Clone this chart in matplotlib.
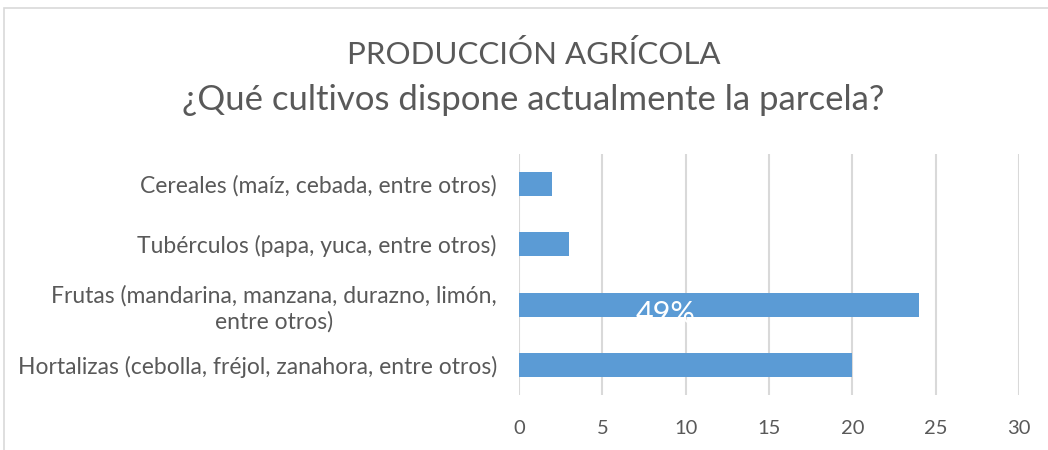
import matplotlib
matplotlib.use('Agg')
import matplotlib.pyplot as plt
from matplotlib.patches import Rectangle

# Data (bottom to top as drawn)
categories = [
    'Hortalizas (cebolla, fréjol, zanahora, entre otros)',
    'Frutas (mandarina, manzana, durazno, limón,\nentre otros)',
    'Tubérculos (papa, yuca, entre otros)',
    'Cereales (maíz, cebada, entre otros)',
]
values = [20, 24, 3, 2]
x_ticks = [0, 5, 10, 15, 20, 25, 30]

title_main = 'PRODUCCIÓN AGRÍCOLA'
title_sub = '¿Qué cultivos dispone actualmente la parcela?'

TEXT = '#595959'
BAR = '#5B9BD5'
GRID = '#D9D9D9'
plt.rcParams['font.family'] = ['Lato', 'DejaVu Sans']

fig = plt.figure(figsize=(10.48, 4.5), dpi=100)
ax = fig.add_axes([519 / 1048, 1 - 395 / 450, 500 / 1048, 241 / 450])

# chart frame (cut off at right and bottom like the screenshot)
fig.patches.append(Rectangle((4 / 1048, -0.1), 1.2, 1 - 8 / 450 + 0.1,
                             transform=fig.transFigure, fill=False,
                             edgecolor=GRID, linewidth=1.2))

ax.barh(range(len(values)), values, height=0.4, color=BAR, zorder=3)
ax.set_xlim(0, 30)
ax.set_ylim(-0.5, 3.5)
ax.set_xticks(x_ticks)
ax.set_yticks(range(len(categories)))
ax.set_yticklabels(categories, multialignment='center', linespacing=1.25)
ax.grid(axis='x', color=GRID, linewidth=1.5, zorder=0)
ax.set_axisbelow(True)
for s in ax.spines.values():
    s.set_visible(False)
ax.tick_params(axis='both', length=0, colors=TEXT)
ax.tick_params(axis='y', pad=16, labelsize=16.5)
ax.tick_params(axis='x', pad=18, labelsize=14.5)

# stray data label, mostly white on white below the bar
ax.text(8.8, 1 - 0.15, '49%', color='white', fontsize=22,
        ha='center', va='center', zorder=4)

fig.text(0.509, 1 - 55 / 450, title_main, ha='center', va='center',
         fontsize=22.5, color=TEXT)
fig.text(0.509, 1 - 100 / 450, title_sub, ha='center', va='center',
         fontsize=25, color=TEXT)

fig.savefig('out.png', dpi=100)
